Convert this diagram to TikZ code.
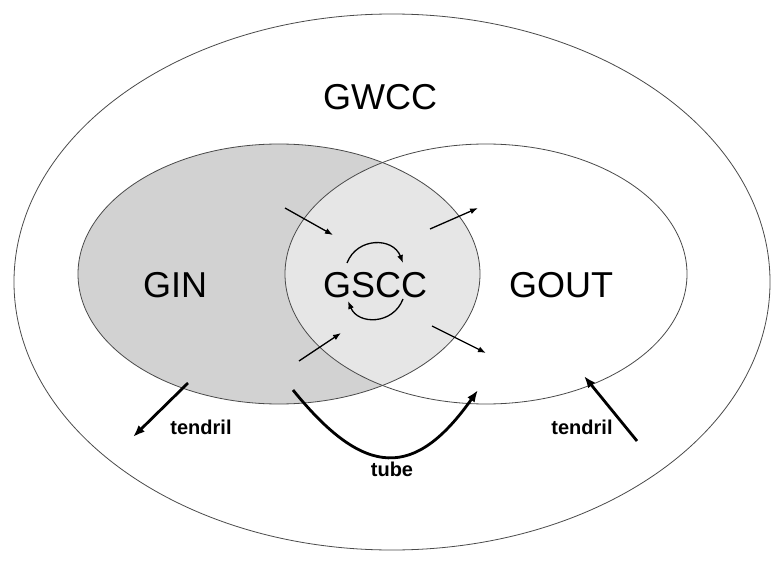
\documentclass[tikz,border=0pt]{standalone}
\usepackage{fontspec}
\setmainfont{Liberation Sans}
\usepackage{tikz}
\usetikzlibrary{positioning,arrows.meta}
\definecolor{infill}{HTML}{D2D2D2}
\definecolor{corefill}{HTML}{E6E6E6}
\definecolor{rim}{HTML}{4A4A4A}

\begin{document}
\begin{tikzpicture}[x=1pt, y=-1pt,
  set/.style={draw=rim, line width=0.8pt},
  big/.style={font=\fontsize{36}{40}\selectfont},
  small/.style={font=\fontsize{20}{22}\selectfont\bfseries},
  flow/.style={-{Latex[length=8pt,width=6pt]}, line width=1.3pt},
  heavy/.style={-{Latex[length=12pt,width=9pt]}, line width=2.8pt}
]
\useasboundingbox (0,0) rectangle (783,561);
% the three sets
\draw[set] (392,282) ellipse[x radius=378pt, y radius=268pt];
\fill[infill] (279,274) ellipse[x radius=201pt, y radius=130pt];
\begin{scope}
  \clip (279,274) ellipse[x radius=201pt, y radius=130pt];
  \fill[corefill] (486,274) ellipse[x radius=201pt, y radius=130pt];
\end{scope}
\draw[set] (279,274) ellipse[x radius=201pt, y radius=130pt];
\draw[set] (486,274) ellipse[x radius=201pt, y radius=130pt];

\node[big] (gwcc) at (380,97) {GWCC};
\node[big] (gin)  at (175,285) {GIN};
\node[big] (gscc) at (375,285) {GSCC};
\node[big] (gout) at (561,285) {GOUT};

% flows into and out of the core
\coordinate (i1a) at (285,208); \coordinate (i1b) at (333,235);
\coordinate (i2a) at (299,361); \coordinate (i2b) at (341,333);
\coordinate (o1a) at (430,229); \coordinate (o1b) at (478,208);
\coordinate (o2a) at (432,326); \coordinate (o2b) at (486,353);
\foreach \s/\t in {i1a/i1b, i2a/i2b, o1a/o1b, o2a/o2b}
  \draw[flow] (\s) -- (\t);

% cycle inside the core
\coordinate (c1) at (347,263); \coordinate (c2) at (403,263);
\coordinate (c3) at (403,299); \coordinate (c4) at (348,301);
\draw[flow] (c1) .. controls (357,237) and (393,237) .. (c2);
\draw[flow] (c3) .. controls (393,325) and (358,325) .. (c4);

% tendrils and tube
\coordinate (tla) at (188,383); \coordinate (tlb) at (133,437);
\coordinate (tra) at (637,441); \coordinate (trb) at (584,376);
\coordinate (tua) at (293,390); \coordinate (tub) at (478,390);
\draw[heavy] (tla) -- (tlb);
\draw[heavy] (tra) -- (trb);
\draw[heavy] (tua) .. controls (365,479) and (415,479) .. (tub);

\node[small] (tenl) at (201,427) {tendril};
\node[small] (tenr) at (582,427) {tendril};
\node[small] (tube) at (392,469) {tube};
\end{tikzpicture}
\end{document}
